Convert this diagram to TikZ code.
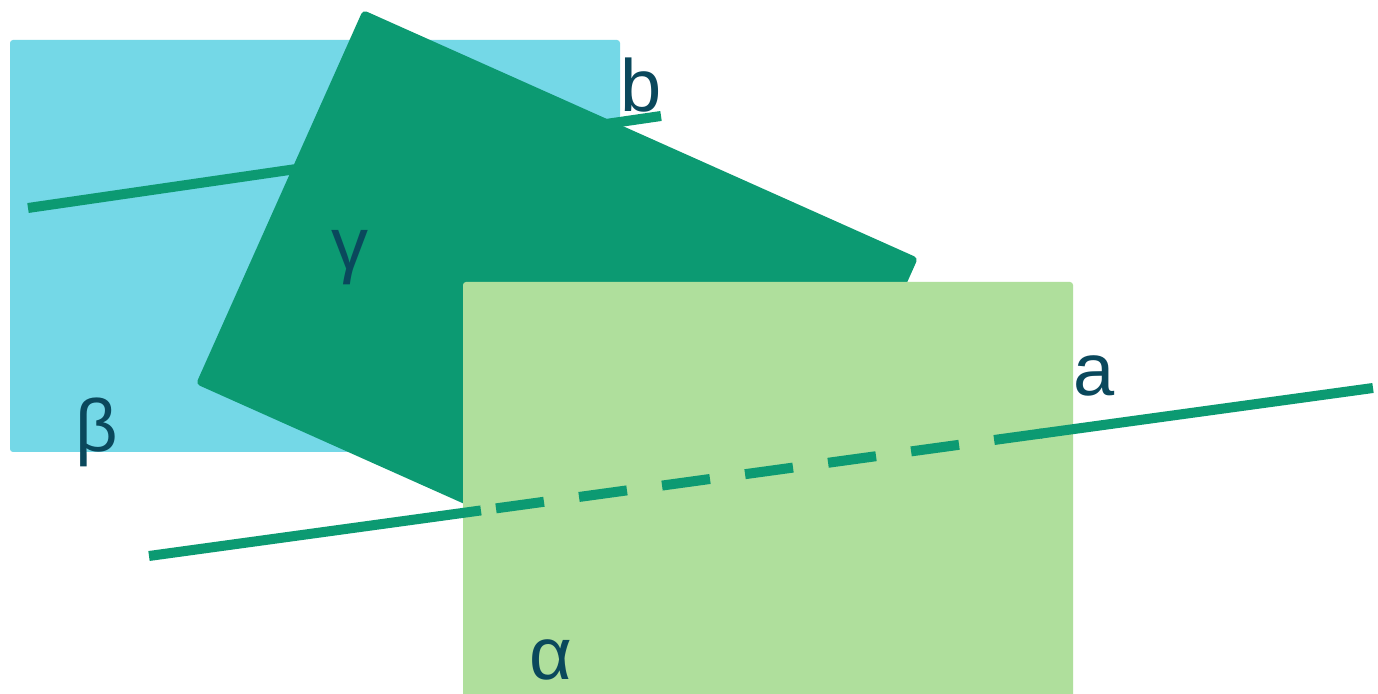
\documentclass[tikz,border=0pt]{standalone}
\usepackage{fontspec}
\setmainfont{Liberation Sans}
\usetikzlibrary{calc}
\definecolor{planeblue}{RGB}{116,216,231}
\definecolor{planedark}{RGB}{12,154,114}
\definecolor{planelight}{RGB}{175,223,156}
\definecolor{labelcol}{RGB}{10,72,92}
\begin{document}
\begin{tikzpicture}[x=0.5pt,y=-0.5pt,
  lbl/.style={text=labelcol,font=\fontsize{37}{40}\selectfont,inner sep=0pt},
  ln/.style={draw=planedark,line width=5pt}]
\useasboundingbox[fill=white] (0,0) rectangle (1378,694);
% plane beta
\fill[planeblue,rounded corners=1.5pt] (10,40) rectangle (620,452);
% line b
\coordinate (b1) at (28,208);
\coordinate (b2) at (661,116);
\draw[ln] (b1) -- (b2);
% plane gamma
\fill[planedark,rounded corners=2pt] (363,10) -- (918,258) -- (751,632) -- (196,384) -- cycle;
% plane alpha
\fill[planelight,rounded corners=1.5pt] (463,282) rectangle (1073,700);
% line a
\coordinate (a1) at (149,556);
\coordinate (a2) at (1373,388);
\coordinate (a3) at ($(a1)!0.2712!(a2)$);
\coordinate (a4) at ($(a1)!0.2835!(a2)$);
\coordinate (a5) at ($(a1)!0.7304!(a2)$);
\coordinate (a6) at ($(a1)!0.7280!(a2)$);
\draw[ln] (a1) -- (a3);
\draw[ln,dash pattern=on 24.2pt off 17.7pt] (a4) -- (a5);
\draw[ln] (a6) -- (a2);
% labels
\node[lbl] (lb) at (641,85) {b};
\node[lbl] (la) at (1094,376) {a};
\node[lbl] (lg) at (350,258) {γ};
\node[lbl] (lbe) at (97,432) {β};
\node[lbl] (lal) at (551,660) {α};
\end{tikzpicture}
\end{document}
